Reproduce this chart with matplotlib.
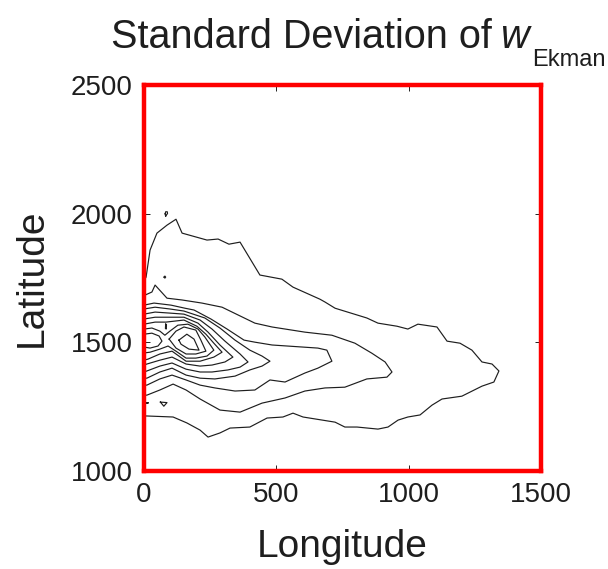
import numpy as np
import matplotlib.pyplot as plt

plt.rcParams['font.family'] = ['Liberation Sans', 'DejaVu Sans']

# contour outlines of the w_Ekman standard deviation, (longitude, latitude)
level1 = [(0, 1740), (8, 1754), (23, 1859), (49, 1925), (87, 1956), (121, 1979),
          (144, 1925), (238, 1898), (280, 1902), (321, 1882), (363, 1890),
          (438, 1762), (521, 1746), (563, 1715), (589, 1703), (665, 1668),
          (684, 1657), (722, 1633), (842, 1595), (884, 1575), (956, 1563),
          (997, 1552), (1035, 1571), (1107, 1560), (1145, 1505), (1194, 1497),
          (1239, 1470), (1277, 1424), (1315, 1416), (1341, 1389), (1322, 1346),
          (1277, 1330), (1201, 1291), (1126, 1280), (1088, 1256), (1043, 1218),
          (997, 1210), (960, 1198), (922, 1171), (884, 1163), (805, 1171),
          (759, 1171), (722, 1190), (601, 1210), (563, 1225), (525, 1210),
          (465, 1206), (400, 1171), (325, 1167), (287, 1148), (242, 1132),
          (212, 1159), (162, 1187), (110, 1210), (11, 1214), (0, 1214)]

level2 = [(0, 1680), (4, 1684), (30, 1696), (42, 1723), (87, 1672), (144, 1665),
          (219, 1653), (295, 1637), (419, 1575), (484, 1560), (608, 1540),
          (710, 1528), (797, 1497), (861, 1458), (911, 1424), (937, 1385),
          (918, 1365), (842, 1358), (759, 1326), (684, 1323), (608, 1311),
          (533, 1284), (446, 1264), (363, 1229), (287, 1237), (212, 1280),
          (159, 1315), (110, 1338), (60, 1315), (11, 1295), (0, 1295)]

level3 = [(0, 1645), (38, 1653), (102, 1645), (155, 1633), (189, 1626),
          (253, 1591), (314, 1552), (378, 1509), (419, 1501), (484, 1490),
          (657, 1478), (691, 1470), (710, 1427), (657, 1400), (608, 1381),
          (533, 1346), (476, 1354), (419, 1315), (344, 1311), (268, 1323),
          (212, 1334), (159, 1354), (106, 1373), (60, 1358), (11, 1334), (0, 1334)]

level4 = [(0, 1630), (42, 1637), (98, 1630), (151, 1622), (230, 1595),
          (287, 1556), (344, 1509), (400, 1470), (446, 1447), (476, 1427),
          (446, 1408), (400, 1393), (344, 1369), (268, 1358), (212, 1361),
          (159, 1373), (106, 1400), (60, 1385), (11, 1361), (0, 1361)]

level5 = [(0, 1610), (42, 1618), (98, 1614), (151, 1610), (212, 1587),
          (257, 1552), (306, 1505), (363, 1455), (393, 1424), (363, 1404),
          (317, 1393), (257, 1385), (212, 1385), (159, 1396), (106, 1420),
          (60, 1408), (11, 1389), (0, 1385)]

level6 = [(0, 1591), (42, 1598), (91, 1598), (151, 1598), (204, 1575),
          (242, 1540), (287, 1490), (336, 1443), (306, 1424), (257, 1412),
          (212, 1408), (159, 1416), (106, 1443), (60, 1431), (11, 1416), (0, 1412)]

level7 = [(0, 1571), (42, 1579), (83, 1579), (151, 1587), (200, 1563),
          (234, 1532), (264, 1497), (295, 1462), (264, 1443), (212, 1427),
          (159, 1427), (106, 1466), (60, 1455), (15, 1435), (0, 1431)]

level8 = [(0, 1552), (30, 1556), (60, 1544), (79, 1528), (98, 1544),
          (128, 1567), (166, 1571), (204, 1552), (230, 1521), (264, 1470),
          (238, 1447), (196, 1439), (159, 1439), (121, 1466), (91, 1486),
          (60, 1474), (23, 1462), (0, 1459)]

# peak at the western edge
level9_west = [(0, 1532), (30, 1536), (57, 1525), (68, 1505), (53, 1486),
               (23, 1478), (0, 1482)]

# peak near 170 E
level9_east = [(95, 1513), (121, 1544), (151, 1560), (196, 1548), (215, 1509),
               (234, 1466), (196, 1455), (159, 1455), (121, 1478), (95, 1513)]
level10_east = [(132, 1509), (162, 1532), (189, 1513), (208, 1470), (170, 1474),
                (140, 1493), (132, 1509)]

# small isolated loops
islands = [
    [(80, 2000), (82, 2008), (88, 2008), (89, 2001), (85, 1996), (82, 1990), (80, 2000)],
    [(76, 1754), (79, 1758), (82, 1754), (79, 1750), (76, 1754)],
    [(82, 1571), (85, 1569), (84, 1552), (81, 1554), (82, 1571)],
    [(0, 1266), (17, 1265), (0, 1262)],
    [(62, 1268), (87, 1266), (75, 1252), (62, 1268)],
]

x_ticks = [0, 500, 1000, 1500]
y_ticks = [1000, 1500, 2000, 2500]

ink = '#1e1e1e'
fig = plt.figure(figsize=(6.08, 5.69), dpi=100)
ax = fig.add_axes([0.2368, 0.1722, 0.653, 0.678])

lines = [level1, level2, level3, level4, level5, level6, level7, level8,
         level9_west, level9_east, level10_east] + islands
for pts in lines:
    pts = np.array(pts, dtype=float)
    ax.plot(pts[:, 0], pts[:, 1], color=ink, lw=0.85)

ax.set_xlim(0, 1500)
ax.set_ylim(1000, 2500)
ax.set_xticks(x_ticks)
ax.set_yticks(y_ticks)
ax.tick_params(direction='in', top=True, right=True, length=4, width=0.6,
               labelsize=20, labelcolor=ink, pad=8)
for s in ax.spines.values():
    s.set_color('red')
    s.set_linewidth(3.2)

ax.set_xlabel('Longitude', fontsize=28, color=ink, labelpad=15)
ax.set_ylabel('Latitude', fontsize=28, color=ink, labelpad=15)

# title: main part plus a lowered "Ekman" subscript
fig.text(0.182, 0.9165, 'Standard Deviation of ', fontsize=28.5, color=ink,
         ha='left', va='baseline')
fig.text(0.870, 0.9165, 'w', fontsize=28.5, color=ink, style='italic',
         ha='right', va='baseline')
fig.text(0.875, 0.884, 'Ekman', fontsize=17, color=ink,
         ha='left', va='baseline')

fig.savefig('out.png', dpi=100)
